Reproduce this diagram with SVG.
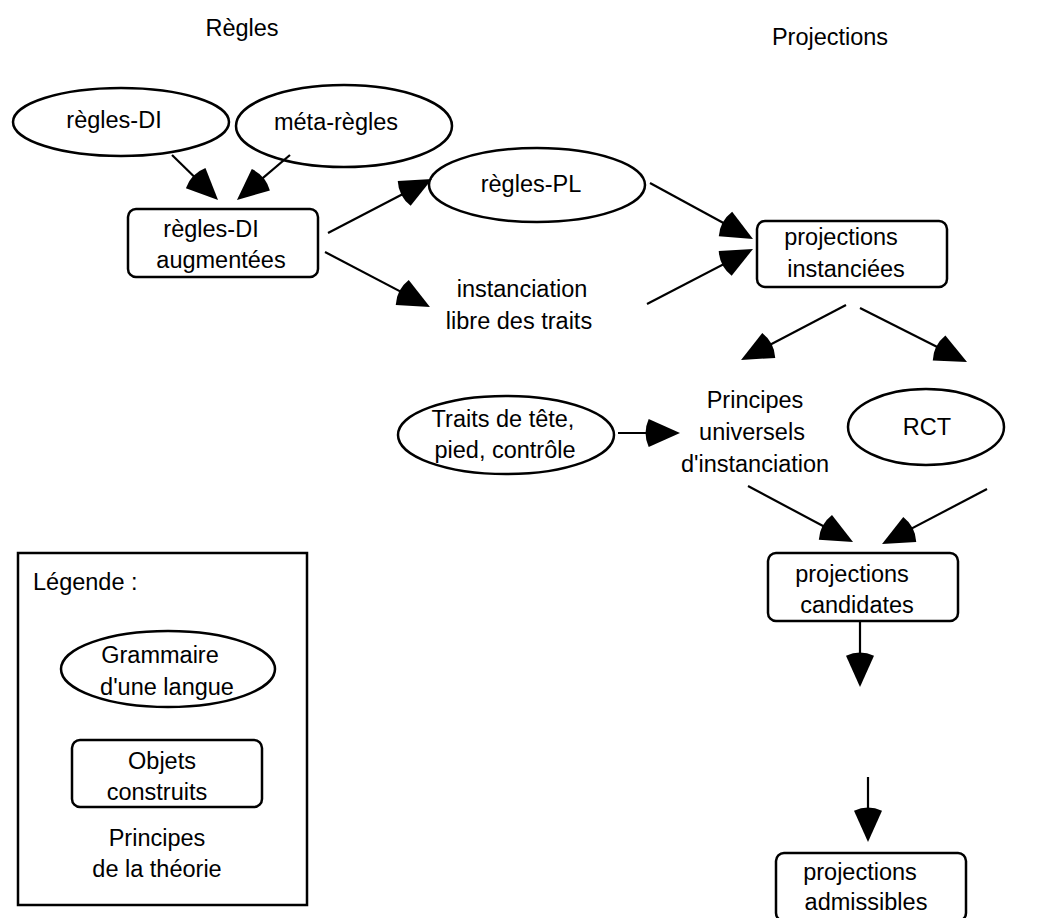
<svg xmlns="http://www.w3.org/2000/svg" width="1051" height="918" viewBox="0 0 1051 918">
<style>
text{font-family:"Liberation Sans",Arial,sans-serif;font-size:23.5px;fill:#000;text-anchor:middle}
.sh{fill:#fff;stroke:#000;stroke-width:2.5}
.ln{fill:none;stroke:#000;stroke-width:2.2;marker-end:url(#ah)}
</style>
<defs>
<marker id="ah" markerUnits="userSpaceOnUse" markerWidth="60" markerHeight="60" refX="0" refY="0" orient="auto" overflow="visible">
<path d="M10,0 L-21.3,-14 A34,34 0 0 0 -21.3,14 Z" fill="#000"/>
</marker>
</defs>
<rect width="1051" height="918" fill="#fff"/>
<g id="titles">
<text x="242" y="36">Règles</text>
<text x="830" y="45">Projections</text>
</g>
<g id="n-reglesDI"><ellipse class="sh" cx="121" cy="122" rx="108" ry="34"/><text x="114" y="128">règles-DI</text></g>
<g id="n-metaregles"><ellipse class="sh" cx="344" cy="126" rx="108" ry="41"/><text x="336" y="130">méta-règles</text></g>
<g id="n-augmentees"><rect class="sh" x="128" y="209" width="190" height="68" rx="8"/><text x="211" y="237">règles-DI</text><text x="221" y="268">augmentées</text></g>
<g id="n-reglesPL"><ellipse class="sh" cx="537" cy="185" rx="108" ry="37"/><text x="531" y="192">règles-PL</text></g>
<g id="n-instanciation"><text x="522" y="297">instanciation</text><text x="519" y="329">libre des traits</text></g>
<g id="n-instanciees"><rect class="sh" x="757" y="221" width="190" height="66" rx="8"/><text x="841" y="245">projections</text><text x="846" y="277">instanciées</text></g>
<g id="n-traits"><ellipse class="sh" cx="506" cy="435" rx="108" ry="39"/><text x="503" y="427">Traits de tête,</text><text x="505" y="458">pied, contrôle</text></g>
<g id="n-principes"><text x="755" y="408">Principes</text><text x="752" y="440">universels</text><text x="755" y="472">d'instanciation</text></g>
<g id="n-rct"><ellipse class="sh" cx="926" cy="427" rx="78" ry="38"/><text x="927" y="435">RCT</text></g>
<g id="n-candidates"><rect class="sh" x="768" y="553" width="190" height="68" rx="8"/><text x="852" y="582">projections</text><text x="857" y="613">candidates</text></g>
<g id="n-admissibles"><rect class="sh" x="776" y="853" width="190" height="68" rx="8"/><text x="860" y="880">projections</text><text x="866" y="910">admissibles</text></g>
<g id="legend">
<rect x="18" y="553" width="289" height="352" fill="none" stroke="#000" stroke-width="2.5"/>
<text x="33" y="590" style="text-anchor:start">Légende :</text>
<ellipse class="sh" cx="168" cy="669" rx="107" ry="38"/>
<text x="160" y="663">Grammaire</text><text x="167" y="695">d'une langue</text>
<rect class="sh" x="72" y="740" width="190" height="67" rx="8"/>
<text x="162" y="769">Objets</text><text x="157" y="800">construits</text>
<text x="157" y="846">Principes</text><text x="157" y="877">de la théorie</text>
</g>
<g id="connectors">
<path class="ln" d="M172,155 L210.9,193"/>
<path class="ln" d="M290,155 L244.6,193.5"/>
<path class="ln" d="M328,233 L423.1,183.6"/>
<path class="ln" d="M325,252 L421.1,302.4"/>
<path class="ln" d="M650,183 L744.2,234.2"/>
<path class="ln" d="M647,304 L744.1,253.6"/>
<path class="ln" d="M846,305 L749.9,355.4"/>
<path class="ln" d="M860,308 L958.1,357.5"/>
<path class="ln" d="M618,433 L670,433"/>
<path class="ln" d="M748,486 L844.2,537.3"/>
<path class="ln" d="M987,489 L890.9,539.4"/>
<path class="ln" d="M860,621 L860,677"/>
<path class="ln" d="M868,777 L868,832"/>
</g>
</svg>
